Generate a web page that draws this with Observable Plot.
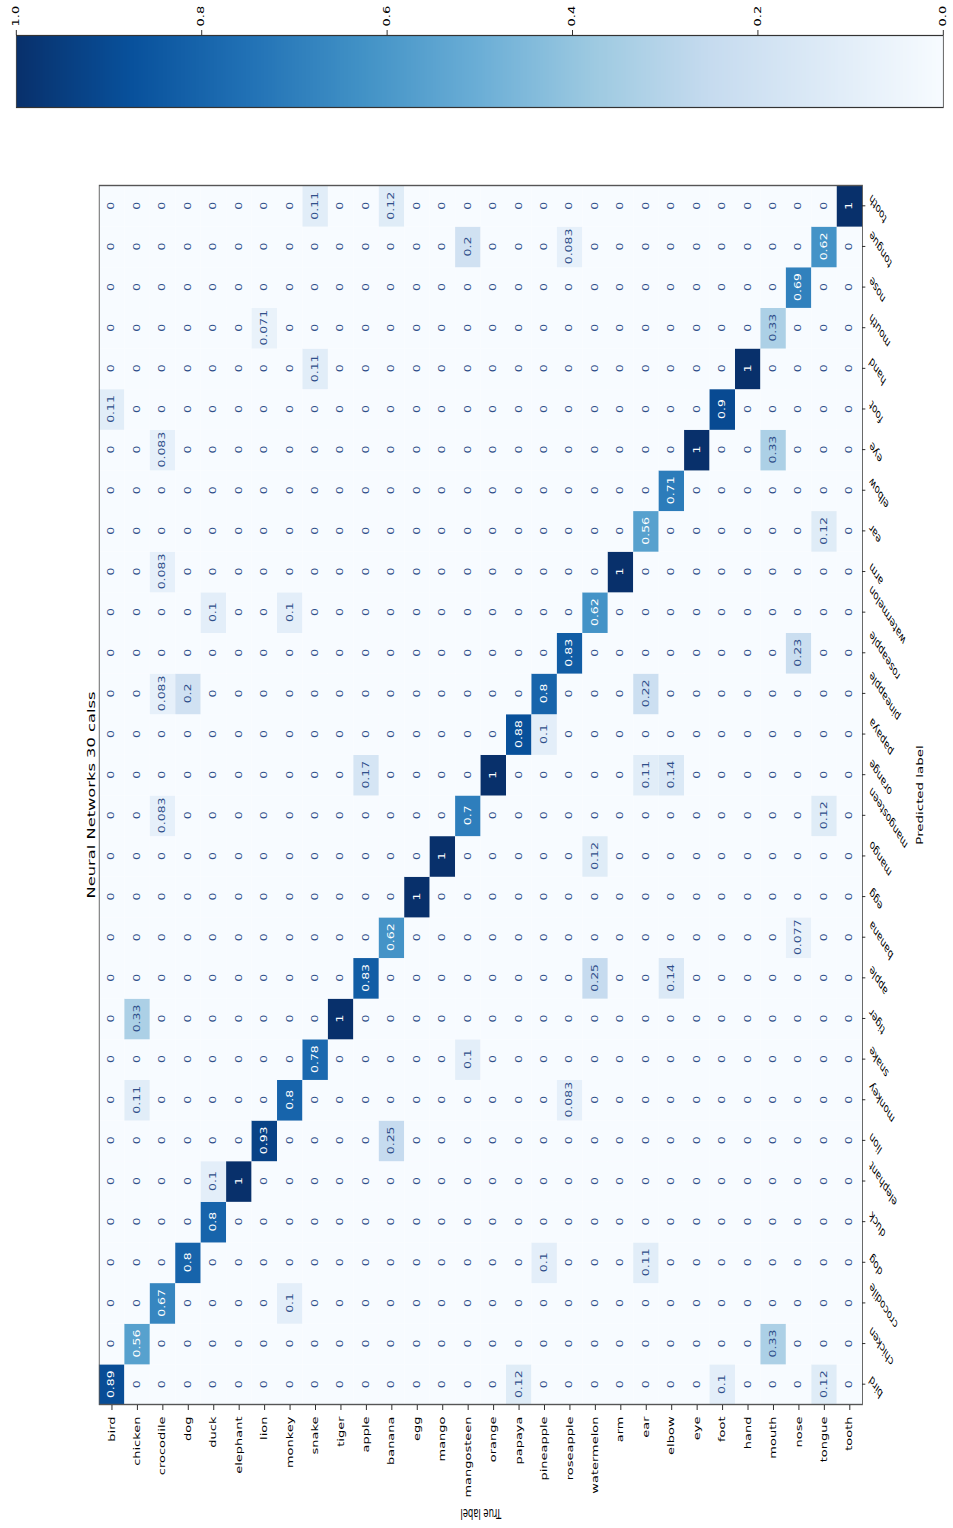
<!DOCTYPE html>
<html>
<head>
<meta charset="utf-8">
<script src="https://cdn.jsdelivr.net/npm/d3@7"></script>
<script src="https://cdn.jsdelivr.net/npm/@observablehq/plot@0.6"></script>
<style>
  html, body { margin: 0; padding: 0; background: #fff; }
  body { width: 953px; height: 1528px; overflow: hidden; position: relative; font-family: "DejaVu Sans"; }
  #sheet { position: absolute; left: 0; top: 0; transform-origin: 0 0; }
  #sheet > svg, #sheet > figure { position: absolute; top: 0; margin: 0; }
</style>
</head>
<body>
<div id="sheet"></div>
<script>
// Class names, in matrix order (rows = true label, columns = predicted label)
const classes = ["bird", "chicken", "crocodile", "dog", "duck", "elephant", "lion", "monkey", "snake", "tiger",
  "apple", "banana", "egg", "mango", "mangosteen", "orange", "papaya", "pineapple", "roseapple", "watermelon",
  "arm", "ear", "elbow", "eye", "foot", "hand", "mouth", "nose", "tongue", "tooth"];

// Non-zero entries of the row-normalised confusion matrix
const actual = [
  "bird", "bird",
  "chicken", "chicken", "chicken",
  "crocodile", "crocodile", "crocodile", "crocodile", "crocodile",
  "dog", "dog",
  "duck", "duck", "duck",
  "elephant",
  "lion", "lion",
  "monkey", "monkey", "monkey",
  "snake", "snake", "snake",
  "tiger",
  "apple", "apple",
  "banana", "banana", "banana",
  "egg",
  "mango",
  "mangosteen", "mangosteen", "mangosteen",
  "orange",
  "papaya", "papaya",
  "pineapple", "pineapple", "pineapple",
  "roseapple", "roseapple", "roseapple",
  "watermelon", "watermelon", "watermelon",
  "arm",
  "ear", "ear", "ear", "ear",
  "elbow", "elbow", "elbow",
  "eye",
  "foot", "foot",
  "hand",
  "mouth", "mouth", "mouth",
  "nose", "nose", "nose",
  "tongue", "tongue", "tongue", "tongue",
  "tooth"];
const predicted = [
  "bird", "foot",
  "chicken", "monkey", "tiger",
  "crocodile", "mangosteen", "pineapple", "arm", "eye",
  "dog", "pineapple",
  "duck", "elephant", "watermelon",
  "elephant",
  "lion", "mouth",
  "monkey", "crocodile", "watermelon",
  "snake", "hand", "tooth",
  "tiger",
  "apple", "orange",
  "banana", "lion", "tooth",
  "egg",
  "mango",
  "mangosteen", "snake", "tongue",
  "orange",
  "papaya", "bird",
  "pineapple", "dog", "papaya",
  "roseapple", "monkey", "tongue",
  "watermelon", "apple", "mango",
  "arm",
  "ear", "dog", "orange", "pineapple",
  "elbow", "apple", "orange",
  "eye",
  "foot", "bird",
  "hand",
  "mouth", "chicken", "eye",
  "nose", "banana", "roseapple",
  "tongue", "bird", "mangosteen", "ear",
  "tooth"];
const share = [
  0.89, 0.11,
  0.56, 0.11, 0.33,
  0.67, 0.083, 0.083, 0.083, 0.083,
  0.8, 0.2,
  0.8, 0.1, 0.1,
  1,
  0.93, 0.071,
  0.8, 0.1, 0.1,
  0.78, 0.11, 0.11,
  1,
  0.83, 0.17,
  0.62, 0.25, 0.12,
  1,
  1,
  0.7, 0.1, 0.2,
  1,
  0.88, 0.12,
  0.8, 0.1, 0.1,
  0.83, 0.083, 0.083,
  0.62, 0.25, 0.12,
  1,
  0.56, 0.11, 0.11, 0.22,
  0.71, 0.14, 0.14,
  1,
  0.9, 0.1,
  1,
  0.33, 0.33, 0.33,
  0.69, 0.077, 0.23,
  0.62, 0.12, 0.12, 0.12,
  1];

const title = "Neural Networks 30 calss";
const xTitle = "Predicted label";
const yTitle = "True label";
const colorTicks = [0, 0.2, 0.4, 0.6, 0.8, 1.0];
const blues = ["#f7fbff", "#deebf7", "#c6dbef", "#9ecae1", "#6baed6", "#4292c6", "#2171b5", "#08519c", "#08306b"];

// ---- layout (drawn upright, then turned a quarter-turn and squeezed across) ----
const W = 1528, H = 1522;
const squeeze = 953 / H;
const frame = {left: 123, right: 1342, top: 158, bottom: 1377};
const tickFont = 13, cellFont = 12.5, labelFont = 13.4, titleFont = 16.3;
const font = '"DejaVu Sans"';

const sheet = document.getElementById("sheet");
sheet.style.width = W + "px";
sheet.style.height = H + "px";
sheet.style.transform = `translate(0px, 1528px) rotate(-90deg) scale(1, ${squeeze})`;

const lookup = new Map(actual.map((a, i) => [a + "|" + predicted[i], share[i]]));
const grid = classes.flatMap(t => classes.map(p => ({t, p, v: lookup.get(t + "|" + p) ?? 0})));
const fmt = d3.format(".2~g");

const colorScale = {
  type: "linear",
  domain: blues.map((_, i) => i / (blues.length - 1)),
  range: blues,
  interpolate: "rgb"
};

// text widths for centring the slanted column labels under their ticks
const ctx = document.createElement("canvas").getContext("2d");
ctx.font = `${tickFont}px ${font}`;
const slantedLabels = classes.map(c => {
  const w = ctx.measureText(c).width;
  const half = (w + tickFont * 1.17) * Math.SQRT1_2 / 2;
  return Plot.text([c], {
    x: d => d, text: d => d, frameAnchor: "bottom", dy: 5 + 5 + half,
    rotate: -45, textAnchor: "middle", fontSize: tickFont, fill: "#000"
  });
});

const heatmap = Plot.plot({
  width: W, height: H,
  marginLeft: frame.left, marginRight: W - frame.right,
  marginTop: frame.top, marginBottom: H - frame.bottom,
  style: {fontFamily: font, color: "#000", background: "transparent", overflow: "visible"},
  x: {domain: classes, padding: 0, round: false},
  y: {domain: classes, padding: 0, round: false},
  color: colorScale,
  marks: [
    Plot.cell(grid, {x: "p", y: "t", fill: "v", inset: 0}),
    Plot.text(grid.filter(d => d.v <= 0.45), {x: "p", y: "t", text: d => fmt(d.v), fill: "#2f4f8a", fontSize: cellFont}),
    Plot.text(grid.filter(d => d.v > 0.45), {x: "p", y: "t", text: d => fmt(d.v), fill: "#ffffff", fontSize: cellFont}),
    Plot.frame({stroke: "#555", strokeWidth: 1.4}),
    Plot.axisX({anchor: "bottom", tickSize: 5, tickFormat: () => "", label: null}),
    ...slantedLabels,
    Plot.axisY({anchor: "left", tickSize: 5, tickPadding: 7, fontSize: tickFont, label: null}),
    Plot.text([title], {text: d => d, frameAnchor: "top", dy: -6.4, textAnchor: "middle", lineAnchor: "bottom", fontSize: titleFont, fill: "#000"}),
    Plot.text([xTitle], {text: d => d, frameAnchor: "bottom", dy: 96, textAnchor: "middle", lineAnchor: "bottom", fontSize: labelFont, fill: "#000"}),
    Plot.text([yTitle], {text: d => d, frameAnchor: "left", dx: 19 - frame.left, rotate: -90, textAnchor: "middle", lineAnchor: "bottom", fontSize: labelFont, fill: "#000"})
  ]
});
heatmap.style.left = "0px";
sheet.appendChild(heatmap);

// colour bar to the right of the matrix
const barLeft = 1420, barWidth = 72;
const colorbar = Plot.plot({
  width: barWidth + 40, height: H,
  marginLeft: 0, marginRight: 40,
  marginTop: 16 / squeeze, marginBottom: H - 943 / squeeze,
  style: {fontFamily: font, color: "#000", background: "transparent", overflow: "visible"},
  x: {domain: [0, 1], axis: null},
  y: {domain: [0, 1]},
  color: colorScale,
  marks: [
    Plot.raster({x1: 0, x2: 1, y1: 0, y2: 1, width: 1, height: 512, fill: (x, y) => y, imageRendering: "auto"}),
    Plot.frame({stroke: "#333", strokeWidth: 1.2}),
    Plot.axisY({anchor: "right", ticks: colorTicks, tickFormat: d3.format(".1f"), tickSize: 5, tickPadding: 4, fontSize: tickFont, label: null})
  ]
});
colorbar.style.left = barLeft + "px";
sheet.appendChild(colorbar);
</script>
</body>
</html>
